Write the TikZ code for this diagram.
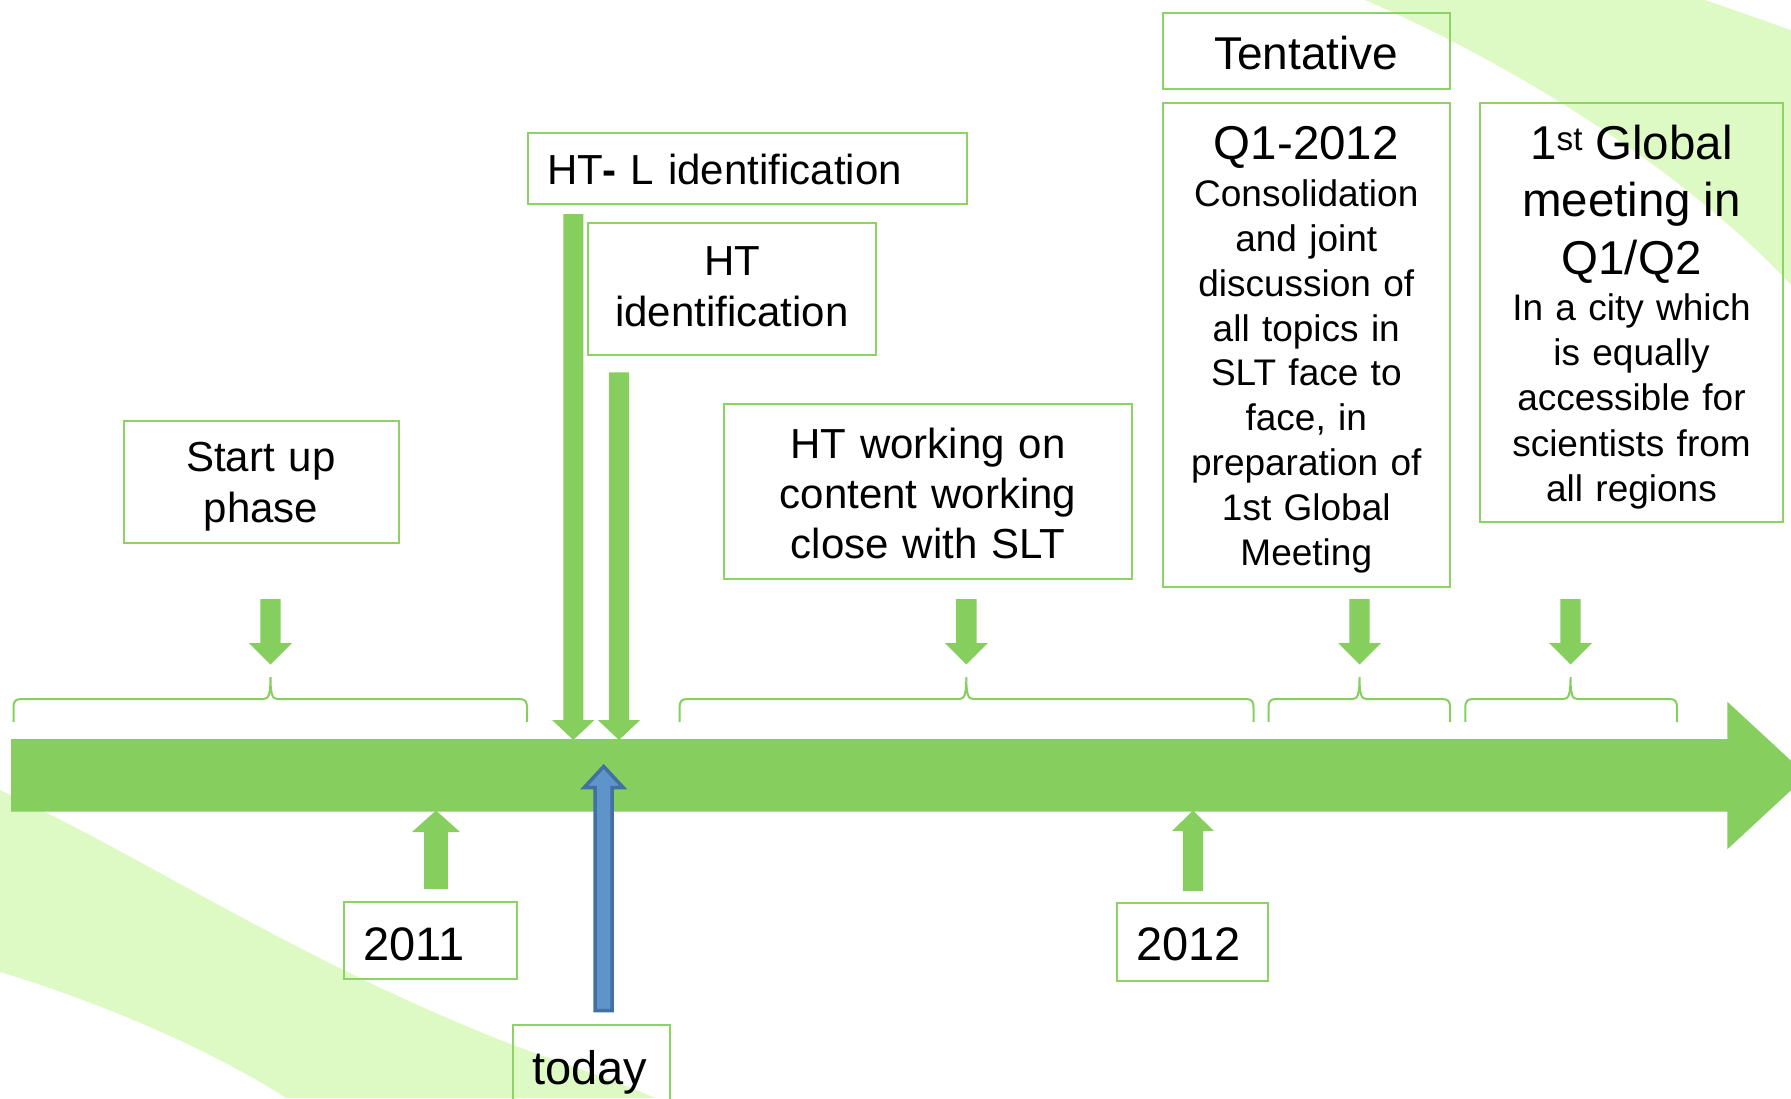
\documentclass[tikz,border=0pt]{standalone}
\usepackage{fontspec}
\setmainfont{Liberation Sans}
\definecolor{tlgreen}{RGB}{134,206,94}
\definecolor{bxgreen}{RGB}{140,210,100}
\definecolor{bandgreen}{RGB}{221,250,196}
\definecolor{arblue}{RGB}{95,148,202}
\definecolor{arblueedge}{RGB}{66,112,160}
\newcommand\fsA{\fontsize{42pt}{50.4pt}\selectfont\lineskiplimit=-100pt\relax}
\newcommand\fsT{\fontsize{46pt}{55pt}\selectfont}
\newcommand\fsB{\fontsize{47.5pt}{57.5pt}\selectfont\lineskiplimit=-100pt\relax}
\newcommand\fsC{\fontsize{37pt}{44.9pt}\selectfont\lineskiplimit=-100pt\relax}
\newcommand\fsD{\fontsize{37pt}{45.4pt}\selectfont\lineskiplimit=-100pt\relax}
\newcommand\fsY{\fontsize{47pt}{56pt}\selectfont}
% lower the content of a node without changing its reported size
\newcommand\lowr[2]{\raisebox{-#1}[\height][\depth]{#2}}
% block arrow: #1 style, #2 x, #3 tail y, #4 head base y, #5 tip y, #6 shaft half width, #7 head half width
\newcommand{\blkarr}[7]{%
  \path[#1] ({#2-#6},#3) -- ({#2-#6},#4) -- ({#2-#7},#4) -- (#2,#5) -- ({#2+#7},#4) -- ({#2+#6},#4) -- ({#2+#6},#3) -- cycle;}
% brace: #1 left x, #2 right x, #3 middle x
\newcommand{\tlbrace}[3]{%
  \draw[brc] (#1,722) -- (#1,708) .. controls (#1,701) and ({#1+2},699) .. ({#1+8},699)
    -- ({#3-7},699) .. controls ({#3-2},699) and (#3,695) .. (#3,677)
    .. controls (#3,695) and ({#3+2},699) .. ({#3+7},699)
    -- ({#2-8},699) .. controls ({#2-2},699) and (#2,701) .. (#2,708) -- (#2,722);}
\tikzset{
  box/.style={draw=bxgreen, line width=2pt, inner ysep=0pt, inner xsep=4pt, align=center, text=black},
  lbox/.style={draw=bxgreen, line width=2pt, inner ysep=0pt, inner xsep=19.5pt, align=left, text=black},
  brc/.style={draw=tlgreen, line width=2pt},
  garr/.style={fill=tlgreen},
  barr/.style={fill=arblue, draw=arblueedge, line width=3.5pt, line join=miter},
}
\begin{document}
\begin{tikzpicture}[x=1pt,y=-1pt]
\useasboundingbox (0,0) rectangle (1791,1098);
\clip (0,0) rectangle (1791,1098);
% background swooshes
\fill[bandgreen] (1365,0) -- (1705,0) -- (1791,30) -- (1791,285)
  .. controls (1680,165) and (1500,58) .. (1365,0) -- cycle;
\fill[bandgreen] (0,790) .. controls (150,860) and (300,962) .. (513,1045)
  .. controls (570,1066) and (620,1082) .. (655,1098) -- (286,1098)
  .. controls (220,1055) and (110,1005) .. (0,972) -- cycle;
% main timeline arrow
\fill[tlgreen] (11,739) -- (1727.3,739) -- (1727.3,701.7) -- (1807,775.5) -- (1727.3,849.3) -- (1727.3,811.7) -- (11,811.7) -- cycle;
% braces
\tlbrace{13.5}{527}{270.5}
\tlbrace{679.6}{1253.5}{966.3}
\tlbrace{1268.5}{1450}{1359.5}
\tlbrace{1465.3}{1677}{1570.5}
% short down arrows
\blkarr{garr}{270.5}{599}{643}{664.5}{10.2}{21.5}
\blkarr{garr}{966.3}{599}{643}{664.5}{10.2}{21.5}
\blkarr{garr}{1359.5}{599}{643}{664.5}{10.2}{21.5}
\blkarr{garr}{1570.5}{599}{643}{664.5}{10.2}{21.5}
% long down arrows
\blkarr{garr}{573.3}{214}{720}{740}{10}{21.2}
\blkarr{garr}{619}{372.4}{720}{740}{10}{21.2}
% up arrows
\blkarr{garr}{436}{889}{832}{810.5}{11.8}{24}
\blkarr{garr}{1193}{891}{831}{810.5}{10.2}{21}
% today arrow
\blkarr{barr}{603.7}{1010.5}{787.5}{766.5}{8.5}{19.5}
% boxes
\node[box, font=\fsA, text width=267pt, minimum width=275pt, minimum height=122pt] (start) at (261,481.5) {\lowr{5pt}{\parbox{267pt}{\centering Start up\\phase}}};
\node[lbox, font=\fsA, text width=400pt, minimum height=71.5pt] (htl) at (747,168.3) {\lowr{1pt}{HT\textbf{-} L identification}};
\node[box, font=\fsA, text width=280pt, minimum width=288.3pt, minimum height=132pt] (ht) at (732,289) {\lowr{-2.3pt}{\parbox{280pt}{\centering HT\\identification}}};
\node[box, font=\fsA, text width=400pt, minimum width=408pt, minimum height=175pt] (work) at (928,491.5) {\lowr{2pt}{\parbox{400pt}{\centering HT working on\\content working\\close with SLT}}};
\node[box, font=\fsT, text width=278pt, minimum width=286.5pt, minimum height=76.4pt] (tent) at (1306.3,50.8) {\lowr{2.3pt}{Tentative}};
\node[box, font=\fsC, text width=278pt, minimum width=286.5pt, minimum height=484pt] (q1) at (1306.3,345) {\lowr{5pt}{\parbox{278pt}{\centering{\fsB Q1-2012\par}\vspace{1.6pt}Consolidation\\and joint\\discussion of\\all topics in\\SLT face to\\face, in\\preparation of\\1st Global\\Meeting}}};
\node[box, font=\fsD, text width=295pt, minimum width=303pt, minimum height=419pt] (glob) at (1631.5,312.5) {\lowr{4.6pt}{\parbox{295pt}{\centering{\fsB 1\textsuperscript{st} Global\\meeting in\\Q1/Q2\par}\vspace{0.6pt}In a city which\\is equally\\accessible for\\scientists from\\all regions}}};
\node[lbox, font=\fsY, text width=134.4pt, minimum height=77pt] (y2011) at (430.7,940.5) {\lowr{3.5pt}{2011}};
\node[lbox, font=\fsY, text width=112.5pt, minimum height=77.5pt] (y2012) at (1192.7,942.2) {\lowr{2.3pt}{2012}};
\node[lbox, font=\fsY, text width=118pt, minimum height=96.6pt] (today) at (591.5,1072.8) {today};
\end{tikzpicture}
\end{document}
